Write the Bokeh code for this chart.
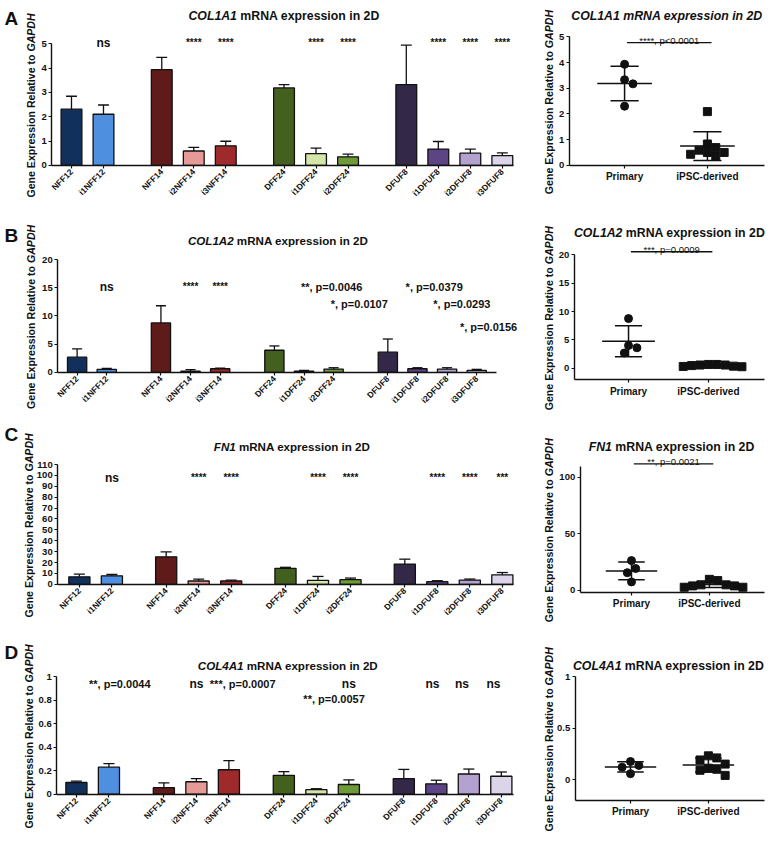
import math
from bokeh.plotting import figure
from bokeh.models import ColumnDataSource, Label, FixedTicker, Range1d
from bokeh.layouts import column, row
from bokeh.embed import file_html
from bokeh.resources import INLINE

FONT = "Liberation Sans"
INK = "#111111"

# ---------------------------------------------------------------- data
categories = ["NFF12", "i1NFF12", "NFF14", "i2NFF14", "i3NFF14", "DFF24",
              "i1DFF24", "i2DFF24", "DFUF8", "i1DFUF8", "i2DFUF8", "i3DFUF8"]
category_group = [0, 0, 1, 1, 1, 2, 2, 2, 3, 3, 3, 3]
bar_colors = ["#12305c", "#4f8fe0", "#5f1a1a", "#e69a98", "#9e2a2b", "#44601f",
              "#d3e5a8", "#6f9a38", "#342848", "#5d4485", "#b3a2cf", "#dcd5ea"]

col1a1_mean = [2.31, 2.10, 3.93, 0.59, 0.80, 3.18, 0.48, 0.35, 3.32, 0.67, 0.50, 0.40]
col1a1_sd = [0.53, 0.38, 0.51, 0.15, 0.19, 0.14, 0.23, 0.11, 1.62, 0.31, 0.17, 0.11]
col1a2_mean = [2.70, 0.53, 8.77, 0.23, 0.64, 3.92, 0.23, 0.58, 3.57, 0.64, 0.58, 0.35]
col1a2_sd = [1.45, 0.17, 3.04, 0.24, 0.12, 0.76, 0.12, 0.24, 2.34, 0.18, 0.24, 0.18]
fn1_mean = [6.9, 7.8, 25.2, 3.0, 3.0, 14.7, 3.6, 4.2, 18.6, 2.4, 3.9, 8.7]
fn1_sd = [2.4, 1.2, 4.5, 1.8, 0.9, 0.9, 3.6, 1.5, 4.5, 0.9, 0.9, 2.1]
col4a1_mean = [0.100, 0.230, 0.056, 0.106, 0.208, 0.161, 0.039, 0.083, 0.133, 0.089, 0.172, 0.153]
col4a1_sd = [0.011, 0.030, 0.041, 0.027, 0.078, 0.031, 0.008, 0.039, 0.078, 0.030, 0.042, 0.036]

col1a1_ticks = [0, 1, 2, 3, 4, 5]
col1a2_ticks = [0, 5, 10, 15, 20]
fn1_ticks = list(range(0, 111, 10))
col4a1_ticks = [0.0, 0.2, 0.4, 0.6, 0.8, 1.0]

# significance labels above the bars: (category, text, height)
col1a1_sig = [("i1NFF12", "ns", 5.04), ("i2NFF14", "****", 5.04), ("i3NFF14", "****", 5.04),
              ("i1DFF24", "****", 5.04), ("i2DFF24", "****", 5.04), ("i1DFUF8", "****", 5.04),
              ("i2DFUF8", "****", 5.04), ("i3DFUF8", "****", 5.04)]
col1a2_sig = [("i1NFF12", "ns", 15.2), ("i2NFF14", "****", 15.2), ("i3NFF14", "****", 15.2),
              ("i1DFF24", "**, p=0.0046", 15.2), ("i2DFF24", "*, p=0.0107", 12.2),
              ("i1DFUF8", "*, p=0.0379", 15.2), ("i2DFUF8", "*, p=0.0293", 12.2),
              ("i3DFUF8", "*, p=0.0156", 8.0)]
fn1_sig = [("i1NFF12", "ns", 97.5), ("i2NFF14", "****", 98.5), ("i3NFF14", "****", 98.5),
           ("i1DFF24", "****", 98.5), ("i2DFF24", "****", 98.5), ("i1DFUF8", "****", 98.5),
           ("i2DFUF8", "****", 98.5), ("i3DFUF8", "***", 98.5)]
col4a1_sig = [("i1NFF12", "**, p=0.0044", 0.935), ("i2NFF14", "ns", 0.935),
              ("i3NFF14", "***, p=0.0007", 0.935), ("i2DFF24", "ns", 0.935),
              ("i1DFF24", "**, p=0.0057", 0.81), ("i1DFUF8", "ns", 0.935),
              ("i2DFUF8", "ns", 0.935), ("i3DFUF8", "ns", 0.935)]

dot_groups = ["Primary", "iPSC-derived"]
col1a1_primary = [3.93, 3.33, 3.17, 2.30]
col1a1_ipsc = [2.09, 0.83, 0.69, 0.59, 0.50, 0.50, 0.43, 0.36]
col1a2_primary = [8.76, 4.03, 3.63, 2.71]
col1a2_ipsc = [0.70, 0.60, 0.40, 0.30, 0.35, 0.50, 0.60, 0.70]
fn1_primary = [26.2, 19.2, 15.5, 7.3]
fn1_ipsc = [8.5, 4.7, 3.8, 2.6, 2.6, 3.8, 4.7, 9.6]
col4a1_primary = [0.175, 0.137, 0.120, 0.057]
col4a1_ipsc = [0.23, 0.21, 0.19, 0.15, 0.11, 0.10, 0.09, 0.04]

col1a1_dot_ticks = [0, 1, 2, 3, 4, 5]
col1a2_dot_ticks = [0, 5, 10, 15, 20]
fn1_dot_ticks = [0, 50, 100]
col4a1_dot_ticks = [0.0, 0.5, 1.0]

col1a1_test = ("****, p<0.0001", 4.77)
col1a2_test = ("***, p=0.0009", 20.5)
fn1_test = ("**, p=0.0021", 112.0)

# ---------------------------------------------------------------- layout
SX = 770 / 781
SY = 833 / 849

ROWS = {"A": (8, 226), "B": (226, 430), "C": (430, 636), "D": (636, 841)}
COLS = {"L": (8, 531), "R": (531, 778)}

_W = {" ": 278, "*": 389, ",": 278, "-": 333, ".": 278, "<": 584, "=": 584,
      "A": 722, "C": 722, "D": 722, "E": 667, "F": 611, "G": 778, "H": 722, "L": 611,
      "N": 722, "O": 778, "P": 667, "R": 722, "S": 667,
      "a": 556, "d": 611, "e": 556, "i": 278, "l": 278, "m": 889, "n": 611, "o": 611,
      "p": 611, "r": 389, "s": 556, "t": 333, "v": 556, "x": 556, "y": 556}


def text_w(s, size):
    return sum(_W.get(c, 556) for c in s) * size / 1000.0


class Panel:
    """A figure whose frame fills the canvas; axes are pinned with fixed_location.
    Reference-pixel positions (rx, ry) are mapped to data space."""

    def __init__(self, col, rowk, Fl, Fr, xa, ppx, y_at0, ppy, ylo, ytop):
        pt, pb = ROWS[rowk]
        cl, cr = COLS[col]
        self.Fl, self.xa, self.ppx = Fl, xa, ppx
        self.y_at0, self.ppy = y_at0, ppy
        rl, rr = (cl - 8) / SX, (cr - 8) / SX
        rt, rb = (pt - 8) / SY, (pb - 8) / SY
        self.p = figure(width=cr - cl, height=pb - pt, title=None,
                        x_range=Range1d(self.dx(rl), self.dx(rr)),
                        y_range=Range1d(self.dy(rb), self.dy(rt)),
                        min_border=0, min_border_left=0, min_border_right=0,
                        min_border_top=0, min_border_bottom=0,
                        output_backend="svg", toolbar_location=None, tools="")
        p = self.p
        p.xgrid.visible = False
        p.ygrid.visible = False
        p.outline_line_color = None
        p.background_fill_color = "white"
        p.border_fill_color = "white"
        p.yaxis.fixed_location = self.dx(Fl)
        p.xaxis.fixed_location = ylo
        p.xaxis.bounds = (self.dx(Fl), self.dx(Fr))
        p.yaxis.bounds = (ylo, ytop)
        for ax in (p.xaxis[0], p.yaxis[0]):
            ax.axis_line_width = 1.4
            ax.axis_line_color = INK
            ax.major_tick_line_width = 1.2
            ax.major_tick_line_color = INK
            ax.major_tick_out = 3
            ax.major_tick_in = 0
            ax.minor_tick_line_color = None
            ax.major_label_text_font = FONT
            ax.major_label_text_font_style = "bold"
            ax.major_label_text_color = INK
            ax.major_label_standoff = 2

    def dx(self, rx):
        return self.xa + (rx - self.Fl) / self.ppx

    def dy(self, ry):
        return (self.y_at0 - ry) / self.ppy

    def text(self, x, y, text, size, style="bold", align="center", baseline="alphabetic",
             angle=0.0):
        self.p.add_layout(Label(x=x, y=y, text=text, text_font=FONT,
                                text_font_size=f"{size}px", text_font_style=style,
                                text_align=align, text_baseline=baseline, angle=angle,
                                text_color=INK))

    def title(self, cx, ry, gene, rest, size, all_italic=False):
        if all_italic:
            self.text(self.dx(cx), self.dy(ry), gene + " " + rest, size,
                      style="bold italic", baseline="middle")
            return
        wg, wsp, wr = text_w(gene, size), text_w(" ", size), text_w(rest, size)
        left = cx - (wg + wsp + wr) / 2
        self.text(self.dx(left + wg), self.dy(ry), gene, size, style="bold italic",
                  align="right", baseline="middle")
        self.text(self.dx(left + wg + wsp), self.dy(ry), rest, size, style="bold",
                  align="left", baseline="middle")

    def ylabel(self, rx, ry_center, size=10.6):
        a, b = "Gene Expression Relative to", "GAPDH"
        wa, wsp, wb = text_w(a, size), text_w(" ", size), text_w(b, size)
        bottom = ry_center + (wa + wsp + wb) / 2
        self.text(self.dx(rx), self.dy(bottom - wa), a, size, align="right",
                  baseline="middle", angle=math.pi / 2)
        self.text(self.dx(rx), self.dy(bottom - wa - wsp), b, size, style="bold italic",
                  align="left", baseline="middle", angle=math.pi / 2)


def bar_chart(rowk, letter, gene, means, sds, yticks, sig, nudges, lay, title_lay):
    xs = [i + lay["gap"] * g for i, g in enumerate(category_group)]
    unit = (lay["last_c"] - lay["first_c"]) / xs[-1]
    xa = -(lay["first_c"] - lay["Fl"]) / unit
    ppy = (lay["y0_px"] - lay["yt_px"]) / yticks[-1]
    pan = Panel("L", rowk, lay["Fl"], lay["Fr"], xa, unit, lay["y0_px"], ppy,
                yticks[0], yticks[-1])
    p = pan.p
    tops = [m + s for m, s in zip(means, sds)]
    src = ColumnDataSource(dict(x=xs, mean=means, top=tops, color=bar_colors,
                                left=[x - 0.17 for x in xs], right=[x + 0.17 for x in xs]))
    p.vbar(x="x", top="mean", bottom=0, width=0.65, fill_color="color", line_color=INK,
           line_width=1.3, source=src)
    p.segment(x0="x", y0="mean", x1="x", y1="top", line_color=INK, line_width=1.3, source=src)
    p.segment(x0="left", y0="top", x1="right", y1="top", line_color=INK, line_width=1.3,
              source=src)

    p.xaxis.ticker = FixedTicker(ticks=xs)
    p.xaxis.major_label_overrides = {x: c for x, c in zip(xs, categories)}
    p.xaxis.major_label_orientation = math.pi / 4
    p.xaxis.major_label_text_font_size = "8.5px"
    p.yaxis.ticker = FixedTicker(ticks=yticks)
    p.yaxis.major_label_text_font_size = "9.5px"

    for cat, txt, lvl in sig:
        i = categories.index(cat)
        x = xs[i] + nudges.get(cat, 0) / unit
        if txt == "ns":
            size = 12
        elif set(txt) == {"*"}:
            size = 10
        else:
            size = 11
        pan.text(x, lvl, txt, size)

    pan.title(title_lay[0], title_lay[1], gene, "mRNA expression in 2D", title_lay[2])
    pan.ylabel(lay["ylab_x"], (lay["y0_px"] + lay["yt_px"]) / 2)
    pan.text(pan.dx(4), pan.dy(lay["letter_y"]), letter, 19, align="left")
    return p


def swarm(vals, ppy, ppx, d=8.5):
    placed = []
    offs = [0.0] * len(vals)
    order = sorted(range(len(vals)), key=lambda i: -vals[i])
    cands = [0.0] + [s * j * d / 2 for j in range(1, 30) for s in (1, -1)]
    for i in order:
        y = vals[i] * ppy
        for c in cands:
            if all((c - px) ** 2 + (y - py) ** 2 >= d * d for px, py in placed):
                break
        placed.append((c, y))
        offs[i] = c / ppx
    return offs


def dot_chart(rowk, gene, prim, ipsc, yticks, test, lay, title_lay):
    Fl, Fr = lay["Fl"], 775
    unit = lay["I"] - lay["P"]
    xa = 1 - (lay["P"] - Fl) / unit
    ppy = (lay["y0_px"] - lay["yt_px"]) / yticks[-1]
    pan = Panel("R", rowk, Fl, Fr, xa, unit, lay["y0_px"], ppy, lay["ylo"], lay["ytop"])
    p = pan.p
    for k, vals in enumerate([prim, ipsc]):
        cx = k + 1
        offs = swarm(vals, ppy, unit)
        n = len(vals)
        mean = sum(vals) / n
        sd = math.sqrt(sum((v - mean) ** 2 for v in vals) / (n - 1))
        p.scatter(x=[cx + o for o in offs], y=vals, size=8,
                  marker="circle" if k == 0 else "square",
                  fill_color=INK, line_color=INK)
        p.segment(x0=[cx - 0.33, cx, cx - 0.17, cx - 0.17],
                  y0=[mean, mean - sd, mean + sd, mean - sd],
                  x1=[cx + 0.33, cx, cx + 0.17, cx + 0.17],
                  y1=[mean, mean + sd, mean + sd, mean - sd],
                  line_color=INK, line_width=1.5)
    if test is not None:
        txt, lvl = test
        p.segment(x0=[1.03], y0=[lvl], x1=[2.05], y1=[lvl], line_color=INK, line_width=1.3)
        pan.text(1.54, lvl + 2.0 / ppy, txt, 9.5, style="normal")

    p.xaxis.ticker = FixedTicker(ticks=[1, 2])
    p.xaxis.major_label_overrides = {1: dot_groups[0], 2: dot_groups[1]}
    p.xaxis.major_label_text_font_size = "10px"
    p.xaxis.major_label_standoff = 3
    p.yaxis.ticker = FixedTicker(ticks=yticks)
    p.yaxis.major_label_text_font_size = "9.5px"

    pan.title(title_lay[0], title_lay[1], gene, "mRNA expression in 2D", title_lay[2],
              all_italic=title_lay[3])
    top_px = lay["y0_px"] - lay["ytop"] * ppy
    bot_px = lay["y0_px"] - lay["ylo"] * ppy
    pan.ylabel(556, (top_px + bot_px) / 2)
    return p


A_left = bar_chart("A", "A", "COL1A1", col1a1_mean, col1a1_sd, col1a1_ticks, col1a1_sig, {},
                   dict(Fl=52, Fr=520, first_c=72, last_c=509, gap=0.82, y0_px=168, yt_px=44,
                        letter_y=18, ylab_x=31), (287, 16, 12.3))
B_left = bar_chart("B", "B", "COL1A2", col1a2_mean, col1a2_sd, col1a2_ticks, col1a2_sig,
                   {"i1DFF24": 28, "i2DFF24": 26, "i1DFUF8": 17, "i2DFUF8": 15, "i3DFUF8": 12},
                   dict(Fl=58, Fr=503, first_c=77.7, last_c=483, gap=0.83, y0_px=379, yt_px=264,
                        letter_y=240, ylab_x=31), (281, 245, 11.6))
C_left = bar_chart("C", "C", "FN1", fn1_mean, fn1_sd, fn1_ticks, fn1_sig, {},
                   dict(Fl=58, Fr=520, first_c=80, last_c=509, gap=0.67, y0_px=595, yt_px=473,
                        letter_y=442, ylab_x=29), (295, 455, 11.6))
D_left = bar_chart("D", "D", "COL4A1", col4a1_mean, col4a1_sd, col4a1_ticks, col4a1_sig,
                   {"i1NFF12": 11, "i3NFF14": 14, "i1DFF24": 18, "i1DFUF8": -4,
                    "i2DFUF8": -7, "i3DFUF8": -8},
                   dict(Fl=57, Fr=520, first_c=77, last_c=508, gap=0.69, y0_px=809, yt_px=689,
                        letter_y=665, ylab_x=29), (291, 678, 11.6))

A_right = dot_chart("A", "COL1A1", col1a1_primary, col1a1_ipsc, col1a1_dot_ticks, col1a1_test,
                    dict(Fl=577, P=633, I=717, y0_px=168, yt_px=37, ylo=0, ytop=5),
                    (676, 16, 12.3, True))
B_right = dot_chart("B", "COL1A2", col1a2_primary, col1a2_ipsc, col1a2_dot_ticks, col1a2_test,
                    dict(Fl=582, P=637, I=718, y0_px=375, yt_px=259, ylo=-2, ytop=20),
                    (678, 237, 12.3, False))
C_right = dot_chart("C", "FN1", fn1_primary, fn1_ipsc, fn1_dot_ticks, fn1_test,
                    dict(Fl=588, P=640, I=719, y0_px=601, yt_px=486, ylo=-2, ytop=110),
                    (680, 455, 12.3, False))
D_right = dot_chart("D", "COL4A1", col4a1_primary, col4a1_ipsc, col4a1_dot_ticks, None,
                    dict(Fl=583, P=639, I=718, y0_px=794, yt_px=689, ylo=-0.2, ytop=1.0),
                    (677, 678, 12.3, False))

layout = column(row(A_left, A_right), row(B_left, B_right), row(C_left, C_right),
                row(D_left, D_right), spacing=0)
open("out.html", "w").write(file_html(layout, INLINE))
